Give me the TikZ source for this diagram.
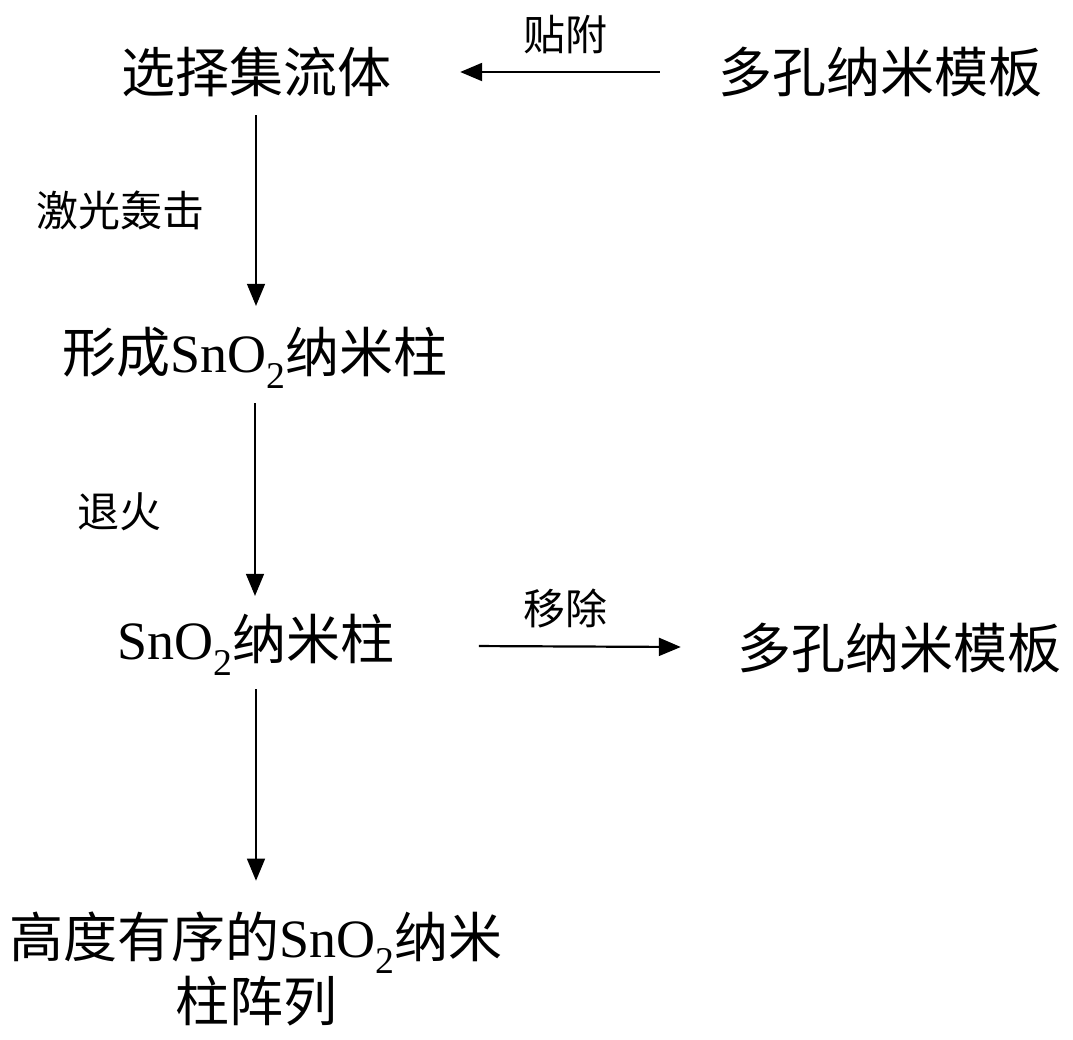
\documentclass[tikz,border=0pt]{standalone}
\usepackage{fontspec}
\setmainfont{Liberation Serif}
\newfontfamily\cjk{Noto Sans CJK SC}
\usetikzlibrary{arrows.meta,positioning}
\newcommand{\sno}{{\rmfamily SnO\textsubscript{2}}}

\tikzset{
  stepbox/.style={font=\fontsize{54}{64}\selectfont\cjk, inner sep=0pt},
  steplabel/.style={font=\fontsize{42}{46}\selectfont\cjk, inner sep=0pt},
  flow/.style={-{Triangle[length=22pt,width=18pt]}, line width=1.3pt},
  sideflow/.style={flow, line width=2.2pt},
}

\begin{document}
\begin{tikzpicture}[x=1pt,y=-1pt]
  \useasboundingbox (0,0) rectangle (1073,1039);

  % Steps
  \node[stepbox] (collector) at (256,72) {选择集流体};
  \node[stepbox] (template) at (880,72) {多孔纳米模板};
  \node[stepbox] (formed) at (255,358) {形成\sno 纳米柱};
  \node[stepbox] (rods) at (256,645) {\sno 纳米柱};
  \node[stepbox] (removed) at (899,648) {多孔纳米模板};
  \node[stepbox, align=center] (array) at (256,969) {高度有序的\sno 纳米\\柱阵列};

  % Arrows
  \draw[sideflow, shorten <=58pt, shorten >=69pt] (template) -- (collector);
  \draw[flow, shorten <=18pt, shorten >=21pt] (collector.south) -- (collector.south |- formed.north);
  \draw[flow, shorten <=14pt, shorten >=18pt] (formed.south) -- (formed.south |- rods.north);
  \draw[sideflow, shorten <=84pt, shorten >=56pt] (rods) -- (removed);
  \draw[flow, shorten <=13pt, shorten >=31pt] (rods.south) -- (rods.south |- array.north);

  % Labels
  \node[steplabel] (attach) at (565,35) {贴附};
  \node[steplabel] (laser) at (120,210) {激光轰击};
  \node[steplabel] (anneal) at (119,512) {退火};
  \node[steplabel] (remove) at (565,608) {移除};
\end{tikzpicture}
\end{document}
